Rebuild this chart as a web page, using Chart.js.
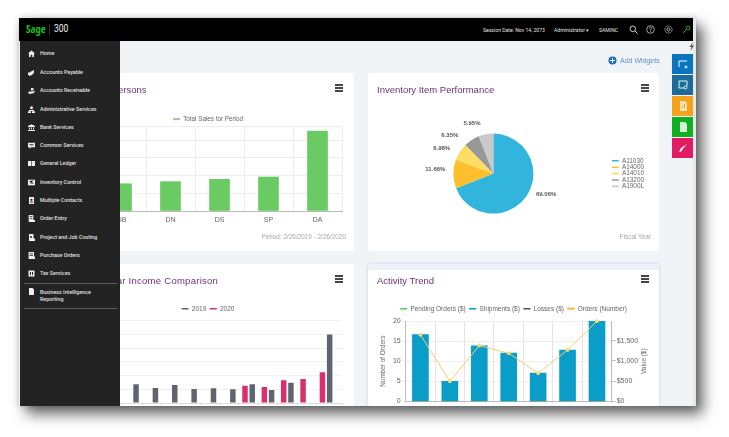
<!DOCTYPE html>
<html><head><meta charset="utf-8">
<script src="https://cdn.jsdelivr.net/npm/chart.js@4"></script>
<style>
html,body{margin:0;padding:0;background:#fff;width:729px;height:437px;overflow:hidden;font-family:"Liberation Sans",Arial,sans-serif}
#root{position:absolute;left:0;top:0;width:729px;height:437px;filter:blur(.45px)}
#frame{position:absolute;left:19px;top:18px;width:677px;height:388px;background:#f0f4f6;box-shadow:7px 8px 13px rgba(0,0,0,.6),0 0 7px rgba(0,0,0,.2)}
#strip{position:absolute;right:0;top:0;width:3px;height:388px;background:#e3e8ea}
#head{position:absolute;left:0;top:0;width:674px;height:23px;background:#000;color:#e2e2e2;font:400 5.1px Roboto,sans-serif}
#head span{position:absolute;top:8.500px;white-space:nowrap}
#logo{left:7px;top:3px!important;font:700 11px "Noto Sans",sans-serif;color:#14c41f;transform:scaleX(.75);transform-origin:left}
#n300{left:35px;top:5px!important;font:400 10px Roboto,sans-serif;color:#eee;transform:scaleX(.85);transform-origin:left}
#side{position:absolute;left:1px;top:23px;width:100px;height:365px;background:#232323;z-index:5;color:#e0e0e0;font:500 5.35px Roboto,sans-serif}
.it{position:absolute;left:20px;white-space:nowrap;line-height:7px}
#side svg{position:absolute;left:8px;width:7px;height:7px}
.rule{position:absolute;left:4px;width:93px;height:1px;background:#5c5c5c}
.card{position:absolute;background:#fff;overflow:hidden;border-radius:2px}
.card canvas{position:absolute;left:0;top:0}
.ttl{position:absolute;left:9px;top:10.500px;font-size:9.5px;color:#6d2f7c;white-space:nowrap;z-index:2;line-height:12px}
.ham{position:absolute;top:11px;width:8px;height:8px;z-index:2;background:linear-gradient(#444 0 1.6px,#fff 1.6px 3.2px,#444 3.2px 4.8px,#fff 4.8px 6.4px,#444 6.4px 8px)}
.foot{position:absolute;right:8px;top:160px;font-size:6.4px;color:#a3a8ab;white-space:nowrap;z-index:2}
.tab{position:absolute;left:653px;width:21px;height:20.4px}
.tab svg{position:absolute;left:6px;top:5px;width:10px;height:10px}
#add{position:absolute;left:601px;top:39px;font-size:7px;color:#5d90d2;white-space:nowrap}
</style></head><body>
<div id="root"><div id="frame">
<div id="strip"></div>
<div id="head">
<span id="logo">Sage</span><span style="left:30px;top:6px;width:.6px;height:11px;background:#333"></span><span id="n300">300</span>
<span style="left:464px">Session Date: Nov 14, 2073</span>
<span style="left:535px">Administrator ▾</span>
<span style="left:580px">SAMINC</span>
<svg style="position:absolute;left:610px;top:7px" width="9" height="9" viewBox="0 0 9 9" fill="none" stroke="#ccc"><circle cx="3.8" cy="3.8" r="2.8"/><path d="M6 6l2.6 2.6"/></svg>
<svg style="position:absolute;left:627px;top:6.5px" width="9" height="9" viewBox="0 0 9 9" fill="none" stroke="#ccc" stroke-width=".8"><circle cx="4.5" cy="4.5" r="3.8"/><path d="M3.4 3.5c0-1.6 2.4-1.5 2.2 0 0 .8-1.1.8-1.1 2M4.5 6.3v.8"/></svg>
<svg style="position:absolute;left:645px;top:6.5px" width="9" height="9" viewBox="0 0 9 9" fill="none" stroke="#ccc" stroke-width=".9"><circle cx="4.5" cy="4.5" r="1.5"/><circle cx="4.5" cy="4.5" r="3.6" stroke-dasharray="1.4 .8"/></svg>
<svg style="position:absolute;left:663px;top:6.5px" width="9" height="9" viewBox="0 0 9 9" fill="none" stroke="#2e9e2e" stroke-width="1"><circle cx="6" cy="3" r="1.9"/><path d="M4.6 4.4L1 8"/></svg>
</div>
<div id="side"></div>

<svg style="position:absolute;left:669px;top:24px" width="7" height="9" viewBox="0 0 7 9"><path d="M5 0L1.5 5h2L2.5 9 6 3.6H4z" fill="#555"/></svg>
<div class="tab" style="top:35.5px;background:#0b74c0"><svg viewBox="0 0 10 10" fill="none" stroke="#fff"><path d="M9 2H1v6"/><circle cx="8" cy="8" r="1"/></svg></div>
<div class="tab" style="top:56.5px;background:#1c6b98"><svg viewBox="0 0 10 10" fill="none" stroke="#dfe"><path d="M9 6V1H1v7h5"/><circle cx="7.5" cy="7.5" r="1.5"/></svg></div>
<div class="tab" style="top:78px;background:#f5a31c"><svg viewBox="0 0 10 10"><path d="M2 0h5l2 2v8H2z" fill="#fbe3ad"/><path d="M4 7h1V5H4zM6 7h1V3H6z" fill="#f5a31c"/></svg></div>
<div class="tab" style="top:99px;background:#10b022"><svg viewBox="0 0 10 10"><path d="M2 0h5l2 2v8H2z" fill="#d5f2d8"/></svg></div>
<div class="tab" style="top:120px;background:#e11c62"><svg viewBox="0 0 10 10"><path d="M1 9c2 0 3-1 3-2l5-6-6 4C2 6 2 8 1 9z" fill="#fff"/></svg></div>

<svg style="position:absolute;left:589px;top:38px" width="9" height="9" viewBox="0 0 9 9"><circle cx="4.5" cy="4.5" r="4" fill="#1b6cc0"/><path d="M4.5 2v5M2 4.5h5" stroke="#fff"/></svg>
<div id="add">Add Widgets</div>
</div>

<div class="card" style="left:62px;top:73px;width:292px;height:178px"><div class="ttl">Top Salespersons</div><div class="ham" style="left:273px"></div><div class="foot">Period: 2/26/2019 - 2/26/2020</div><canvas id="c1" width="292" height="178" style="width:292px;height:178px"></canvas></div>
<div class="card" style="left:368px;top:73px;width:291px;height:178px"><div class="ttl">Inventory Item Performance</div><div class="ham" style="left:273px"></div><div class="foot">Fiscal Year</div><canvas id="c2" width="291" height="178" style="width:291px;height:178px"></canvas></div>
<div class="card" style="left:62px;top:264px;width:292px;height:142px"><div class="ttl" style="letter-spacing:.27px">Year to Year Income Comparison</div><div class="ham" style="left:273px"></div><canvas id="c3" width="292" height="178" style="width:292px;height:178px"></canvas></div>
<div class="card" style="left:368px;top:264px;width:291px;height:142px;box-shadow:0 0 3px rgba(120,130,170,.35)"><div style="position:absolute;left:0;top:0;width:291px;height:6px;background:#eef1f9"></div><div class="ttl">Activity Trend</div><div class="ham" style="left:273px"></div><canvas id="c4" width="291" height="178" style="width:291px;height:178px"></canvas></div>
</div>

<script>
// Navigation
const menuItems=["Home","Accounts Payable","Accounts Receivable","Administrative Services","Bank Services","Common Services","General Ledger","Inventory Control","Multiple Contacts","Order Entry","Project and Job Costing","Purchase Orders","Tax Services"];
// Top Salespersons
const salesCategories=["DB","DN","DS","SP","DA"];
const salesTotals=[1.54,1.66,1.79,1.92,4.52];
// Inventory Item Performance
const itemNames=["A11030","A14000","A14010","A13200","A1900L"];
const itemShares=[69.06,11.66,6.98,6.35,5.95];
// Year to Year Income Comparison
const income2019=[1.2,1.36,1.09,1.31,1.02,1.07,1.0,1.36,0.95,1.48,0.03,5.0];
const income2020=[0,0,0,0,0.04,0.04,0.04,1.26,1.17,1.66,1.75,2.24];
// Activity Trend
const trendPeriods=["P1","P2","P3","P4","P5","P6","P7"];
const pendingOrders=[0,0,0,0,0,0,0];
const shipments=[1650,495,1375,1195,700,1270,1985];
const losses=[0,0,0,0,0,0,0];
const ordersNumber=[16.6,5,13.9,12,7,12.8,20];
const valueTicks=[0,500,1000,1500];

const side=document.getElementById('side');
const iconShapes=[
'<path d="M3.5 .5L7 3.6H6V7H4.3V4.8H2.7V7H1V3.6H0z"/>',
'<path d="M1 5l1-2 4-2v3L3 6.5 1 7zM0 3.5h1.5V6H0z"/>',
'<path d="M0 6l1-1.5h4L7 3.5 6 6l-4 1zM3 1h2.5v2.5H3z"/>',
'<circle cx="3.5" cy="1.7" r="1.5"/><path d="M1 4h5v1H1zM0 5.3h3V7H0zM4 5.3h3V7H4z"/>',
'<path d="M3.5 .3L7 2v1H0V2zM1 3.6h1v2H1zM3 3.6h1v2H3zM5 3.6h1v2H5zM0 6h7v1H0z"/>',
'<path d="M0 .7h7v4.6H3L1.5 7V5.3H0z"/><path d="M1.5 2.3h4v1h-4z" fill="#232323"/>',
'<path d="M0 1h3.2v5H0zM3.8 1H7v5H3.8z"/>',
'<path d="M0 .7h7v5.6H0z"/><path d="M1 2l2 1.5L1.5 5 3.5 4.2 6 5 4 3 5.5 1.5z" fill="#232323"/>',
'<path d="M1 0h5v7H1z"/><circle cx="3.5" cy="2.8" r="1.1" fill="#232323"/><path d="M2 4.6h3v1H2z" fill="#232323"/>',
'<path d="M.7 0h4.6v5H7v2H.7z"/><path d="M1.700 1.300h2.600v.8H1.700zM1.700 3h2.600v.8H1.700z" fill="#232323"/>',
'<path d="M1 0h4.500v4.500H7V7H1z"/><circle cx="3" cy="3" r="1" fill="#232323"/>',
'<path d="M.6 0h5.400v4.500H7V7H.6z"/><path d="M1.600 1.500h3.400v.8H1.600zM1.600 3.300h3.400v.8H1.600z" fill="#232323"/>',
'<path d="M.5 .5h6v6h-6z"/><path d="M2 2h1v3H2zM4 2h1v3H4z" fill="#232323"/>'];
const tops=[9,27.7,46,64.5,82.8,101,119.3,137.7,156,174,192.500,211,229];
menuItems.forEach((m,i)=>{
  side.insertAdjacentHTML('beforeend','<svg viewBox="0 0 7 7" fill="#eee" style="top:'+tops[i]+'px">'+iconShapes[i]+'</svg><div class="it" style="top:'+tops[i]+'px">'+m+'</div>');
});
side.insertAdjacentHTML('beforeend','<div class="rule" style="top:241.500px"></div><svg viewBox="0 0 7 7" fill="#eee" style="top:246.500px"><path d="M1 0h3.500L6 1.500V7H1z"/></svg><div class="it" style="top:247.500px">Business Intelligence<br>Reporting</div><div class="rule" style="top:267px"></div>');

Chart.defaults.font.family='"Liberation Sans",Arial,sans-serif';
Chart.defaults.font.size=6.5;
Chart.defaults.color='#666';
Chart.defaults.animation=false;
Chart.defaults.responsive=false;
Chart.defaults.plugins.tooltip.enabled=false;

const GRID='#eeeeee';
const legendGap=n=>({id:'gap',beforeInit(c){const f=c.legend.fit;c.legend.fit=function(){f.call(this);this.height+=n;};}});
const lineLegend={boxWidth:7,boxHeight:1.6,padding:3.5,font:{size:6.5},color:'#666',sort:(a,b)=>a.datasetIndex-b.datasetIndex};

new Chart('c1',{type:'bar',
 data:{labels:salesCategories,datasets:[{label:'Total Sales for Period',data:salesTotals,backgroundColor:'#69cb62',borderColor:'#69cb62',barThickness:20}]},
 options:{layout:{padding:{top:39.300,right:12,left:12,bottom:0}},
  plugins:{legend:{labels:{...lineLegend,font:{size:6.3}}}},
  scales:{
   x:{grid:{color:GRID,tickLength:2},border:{color:'#bbb'},ticks:{padding:3,font:{size:7},maxRotation:0},afterFit:s=>{s.height=40;}},
   y:{min:0,max:4.75,ticks:{stepSize:1,display:false},grid:{color:GRID,drawTicks:false},border:{color:GRID},afterFit:s=>{s.width=23;}}
  }},
 plugins:[legendGap(-5.200)]});

const pieNudge=[[3,-6.500],[0,-5],[-3,1],[-9,2],[-4,-3]];
const pieLabels={id:'pieLabels',afterDatasetsDraw(c){
  const ctx=c.ctx,arcs=c.getDatasetMeta(0).data;ctx.save();ctx.font='bold 6px "Liberation Sans"';ctx.fillStyle='#555';ctx.textBaseline='middle';
  arcs.forEach((a,i)=>{const m=(a.startAngle+a.endAngle)/2,r=a.outerRadius+8;
    const x=a.x+Math.cos(m)*r+pieNudge[i][0],y=a.y+Math.sin(m)*r+pieNudge[i][1];
    ctx.textAlign=Math.cos(m)>0?'left':'right';ctx.fillText(itemShares[i].toFixed(2)+'%',x,y);});
  ctx.restore();}};
new Chart('c2',{type:'pie',
 data:{labels:itemNames,datasets:[{data:itemShares,backgroundColor:['#31b5dc','#fdbf2d','#fedd63','#989898','#c9c9c9'],borderWidth:0}]},
 options:{layout:{padding:{top:60.600,bottom:37.400,left:7,right:5}},
  plugins:{legend:{position:'right',labels:{boxWidth:7,boxHeight:1.6,padding:0,font:{size:6.4},color:'#666'}}}},
 plugins:[pieLabels]});

new Chart('c3',{type:'bar',
 data:{datasets:[
  {label:'2020',data:income2020.map((y,i)=>({x:i+.5,y})),backgroundColor:'#d92f6f',borderColor:'#d92f6f'},
  {label:'2019',data:income2019.map((y,i)=>({x:i+.5,y})),backgroundColor:'#5e6570',borderColor:'#5e6570'}]},
 options:{layout:{padding:{top:38,right:11.300,left:11.300,bottom:0}},
  datasets:{bar:{categoryPercentage:.746,barPercentage:.76}},
  plugins:{legend:{labels:{...lineLegend,sort:(a,b)=>b.datasetIndex-a.datasetIndex}}},
  scales:{
   x:{type:'linear',offset:false,min:0,max:12.36,ticks:{stepSize:1,display:false},grid:{drawOnChartArea:false,offset:false,tickLength:2,color:'#ccc'},border:{color:'#ddd'},afterFit:s=>{s.height=39;}},
   y:{min:0,max:6,ticks:{stepSize:1,display:false},grid:{color:'#f1f1f1',drawTicks:false},border:{display:false},afterFit:s=>{s.width=30.100;}}
  }},
 plugins:[legendGap(-1.200)]});

const valueTitle={id:'valueTitle',afterDraw(c){const a=c.chartArea,ctx=c.ctx;ctx.save();ctx.translate(276,(a.top+a.bottom)/2);ctx.rotate(-Math.PI/2);ctx.font='6.4px "Liberation Sans"';ctx.fillStyle='#666';ctx.textAlign='center';ctx.textBaseline='middle';ctx.fillText('Value ($)',0,0);ctx.restore();}};
new Chart('c4',{type:'bar',
 data:{labels:trendPeriods,datasets:[
  {label:'Pending Orders ($)',data:pendingOrders,yAxisID:'val',backgroundColor:'#5cc55c',barThickness:16,order:2,grouped:false},
  {label:'Shipments ($)',data:shipments,yAxisID:'val',backgroundColor:'#0a9dc8',barThickness:16,order:3,grouped:false},
  {label:'Losses ($)',data:losses,yAxisID:'val',backgroundColor:'#555b60',barThickness:16,order:2,grouped:false},
  {type:'line',label:'Orders (Number)',data:ordersNumber,yAxisID:'num',borderColor:'#f5cd70',backgroundColor:'#f2bb3c',borderWidth:1,pointRadius:1.5,pointBackgroundColor:'#f7d973',pointBorderColor:'#f7d973',tension:0,order:1,clip:false}]},
 options:{layout:{padding:{top:38,right:11,left:11,bottom:0}},
  plugins:{legend:{labels:lineLegend}},
  scales:{
   x:{grid:{color:'#e4e4e4',tickLength:2},border:{color:'#bbb'},ticks:{display:false},afterFit:s=>{s.height=40.700;}},
   num:{position:'left',min:0,max:20,ticks:{stepSize:5,padding:1,font:{size:7}},grid:{color:'#efefef',tickLength:4},border:{color:'#bbb'},
        title:{display:true,text:'Number of Orders',font:{size:6.4},padding:0},afterFit:s=>{s.width=26.700;}},
   val:{position:'right',min:0,max:1985,afterBuildTicks:s=>{s.ticks=valueTicks.map(v=>({value:v}));},ticks:{autoSkip:false,padding:1,font:{size:7},callback:v=>'$'+v.toLocaleString('en-US')},grid:{drawOnChartArea:false,tickLength:4,color:'#bbb'},border:{color:'#bbb'},afterFit:s=>{s.width=36.300;}}
  }},
 plugins:[legendGap(-0.900),valueTitle]});
</script></div>
</body></html>
